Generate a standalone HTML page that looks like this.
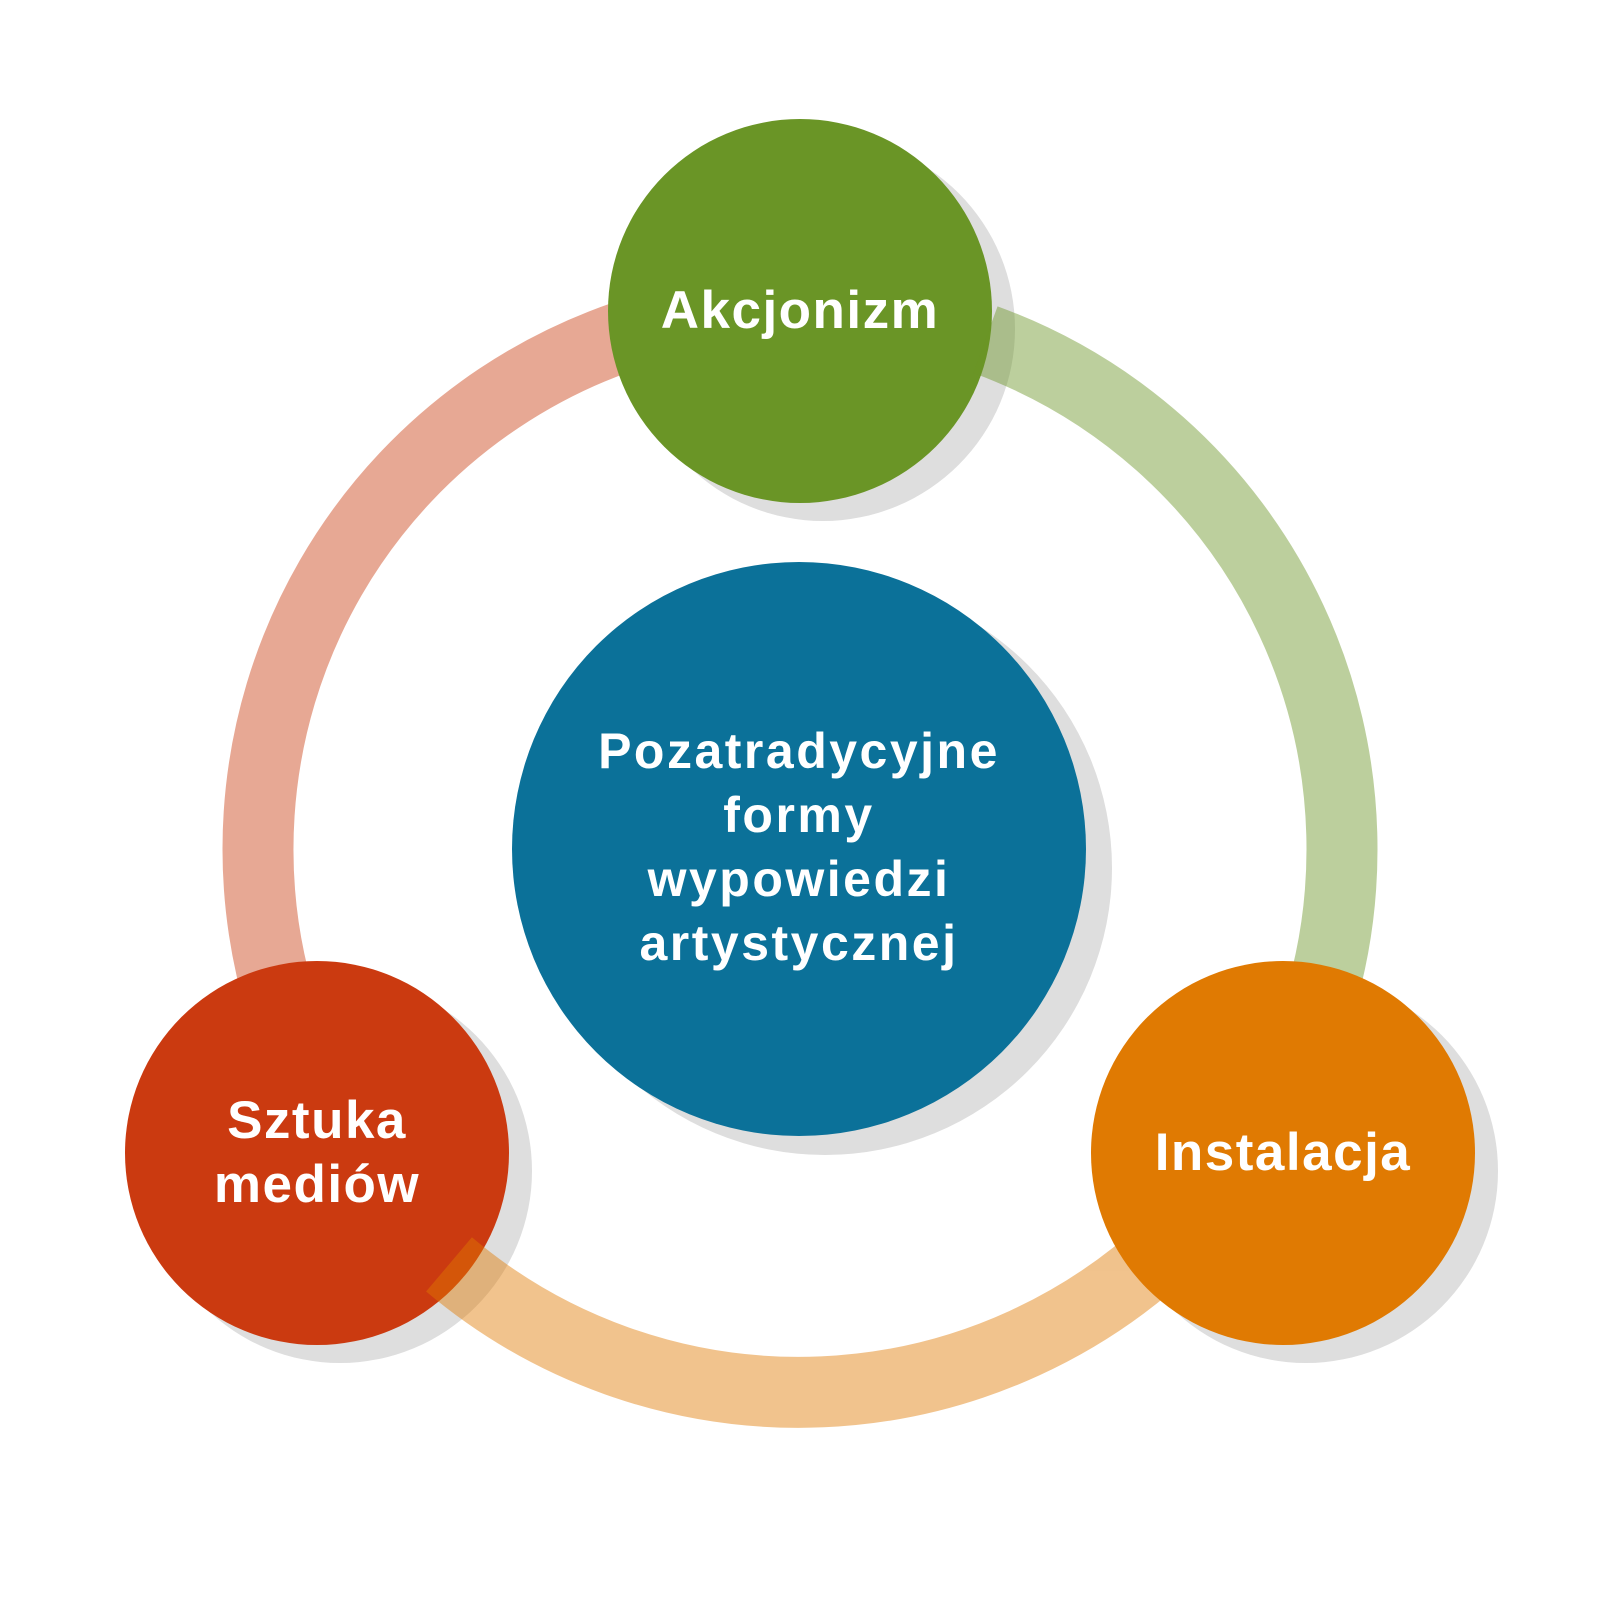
<!DOCTYPE html>
<html><head><meta charset="utf-8"><style>
html,body{margin:0;padding:0;background:#fff}
text{font-family:"Liberation Sans",sans-serif;font-weight:bold;fill:#fff;text-anchor:middle}
</style></head><body>
<svg width="1600" height="1600" viewBox="0 0 1600 1600" xmlns="http://www.w3.org/2000/svg">
<rect width="1600" height="1600" fill="#fff"/>
<!-- shadows -->
<circle cx="823" cy="329" r="192" fill="#dedede"/>
<circle cx="340" cy="1171" r="192" fill="#dedede"/>
<circle cx="825" cy="868" r="287" fill="#dedede"/>
<!-- salmon arc under circles -->
<path d="M 290.7 1034.4 A 542 542 0 0 1 705.9 315.2" fill="none" stroke="#e7a894" stroke-width="71"/>
<circle cx="800" cy="311" r="192" fill="#6a9526"/>
<circle cx="317" cy="1153" r="192" fill="#cb3a10"/>
<circle cx="799" cy="849" r="287" fill="#0b7199"/>
<g fill="none" stroke-width="71" opacity="0.45">
<path d="M 985.4 339.7 A 542 542 0 0 1 1309.3 1034.4" stroke="#6a9526"/>
<path d="M 1183.3 1232.3 A 542 542 0 0 1 449.0 1264.4" stroke="#e07a02"/>
</g>
<circle cx="1306" cy="1171" r="192" fill="#dedede"/>
<circle cx="1283" cy="1153" r="192" fill="#e07a02"/>
<text x="800" y="328" font-size="53" letter-spacing="1.5">Akcjonizm</text>
<text x="1283" y="1170" font-size="53" letter-spacing="1.5">Instalacja</text>
<text x="317" y="1138" font-size="53" letter-spacing="1.5">Sztuka</text>
<text x="317" y="1202" font-size="53" letter-spacing="1.5">mediów</text>
<text x="799" y="768" font-size="50" letter-spacing="2.5">Pozatradycyjne</text>
<text x="799" y="832" font-size="50" letter-spacing="2.5">formy</text>
<text x="799" y="896" font-size="50" letter-spacing="2.5">wypowiedzi</text>
<text x="799" y="960" font-size="50" letter-spacing="2.5">artystycznej</text>
</svg>
</body></html>
